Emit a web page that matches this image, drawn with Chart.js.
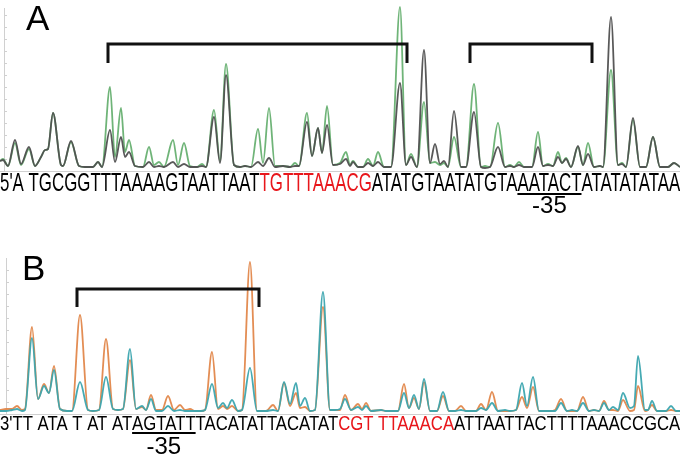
<!DOCTYPE html>
<html>
<head>
<meta charset="utf-8">
<script src="https://cdn.jsdelivr.net/npm/chart.js@4.4.0/dist/chart.umd.min.js"></script>
<style>
body { margin: 0; background: #fff; }
canvas { display: block; }
</style>
</head>
<body>
<canvas id="panelA" width="680" height="230"></canvas>
<canvas id="panelB" width="680" height="225"></canvas>
<script>
// Panel A trace samples (position along the gel, signal height)
const aPos =   [0, 3, 8, 15, 21, 29, 35, 41, 45, 48, 53, 61, 63, 71, 79, 85, 93, 98, 102, 110, 115, 121, 125, 129, 135, 143, 149, 154, 159, 164, 173, 178, 184, 190, 197, 202, 206, 214, 220, 226, 234, 240, 245, 251, 258, 263, 269, 275, 283, 290, 295, 299, 307, 312, 318, 322, 327, 333, 340, 346, 350, 353, 358, 363, 368, 373, 378, 384, 391, 400, 406, 411, 417, 424, 430, 435, 440, 444, 448, 454, 461, 466, 474, 481, 485, 490, 498, 505, 510, 514, 519, 524, 532, 538, 543, 548, 553, 558, 562, 566, 571, 578, 583, 588, 594, 600, 603, 611, 618, 622, 626, 633, 640, 646, 653, 660, 668, 674, 680];
const aGreen = [10, 12, 5, 28, 6, 22, 5, 14, 21, 22, 58, 6, 5, 29, 5, 4, 4, 9, 4, 84, 14, 63, 19, 31, 5, 4, 24, 6, 9, 4, 31, 6, 28, 5, 4, 7, 4, 61, 10, 107, 6, 4, 5, 4, 42, 8, 63, 5, 5, 4, 8, 5, 58, 15, 43, 18, 65, 6, 8, 19, 6, 10, 4, 4, 12, 5, 19, 4, 4, 164, 6, 17, 4, 69, 8, 9, 6, 8, 4, 34, 4, 4, 87, 4, 5, 4, 48, 4, 6, 4, 9, 4, 4, 39, 5, 7, 5, 19, 8, 13, 4, 24, 6, 28, 4, 5, 4, 101, 6, 8, 4, 51, 4, 4, 34, 4, 4, 8, 4];
const aGray =  [10, 11, 5, 31, 7, 24, 5, 14, 21, 22, 58, 6, 5, 30, 5, 4, 4, 9, 4, 41, 9, 34, 14, 19, 5, 4, 9, 4, 5, 4, 9, 4, 7, 4, 4, 5, 4, 54, 8, 96, 6, 4, 5, 4, 9, 5, 13, 4, 5, 4, 5, 5, 49, 15, 43, 18, 46, 6, 7, 12, 5, 9, 4, 4, 8, 5, 9, 4, 4, 88, 6, 14, 4, 121, 8, 27, 7, 10, 4, 60, 4, 4, 59, 4, 3, 4, 24, 4, 5, 4, 6, 4, 4, 24, 5, 6, 5, 14, 8, 12, 4, 25, 6, 17, 4, 5, 4, 154, 6, 7, 4, 53, 4, 4, 34, 4, 4, 8, 4];

// Panel B trace samples
const bPos =    [0, 6, 12, 17, 22, 25, 32, 38, 44, 49, 54, 60, 67, 72, 80, 88, 93, 99, 106, 113, 118, 123, 130, 136, 142, 146, 151, 156, 162, 168, 174, 180, 185, 190, 195, 201, 205, 212, 218, 223, 227, 232, 238, 242, 250, 257, 266, 273, 278, 284, 290, 296, 300, 305, 310, 315, 323, 330, 335, 340, 345, 351, 358, 362, 366, 371, 381, 386, 398, 404, 409, 414, 419, 424, 430, 437, 443, 449, 455, 461, 466, 476, 481, 486, 492, 498, 505, 510, 516, 522, 527, 533, 539, 550, 555, 561, 567, 572, 577, 583, 589, 594, 599, 604, 609, 613, 618, 623, 630, 634, 638, 645, 648, 652, 657, 666, 671, 676, 680];
const bOrange = [4, 5, 5, 8, 4, 5, 87, 15, 30, 21, 48, 5, 3, 3, 99, 4, 3, 4, 75, 5, 4, 5, 54, 5, 7, 4, 19, 4, 4, 18, 4, 9, 4, 5, 3, 3, 4, 62, 5, 8, 5, 8, 3, 4, 152, 3, 3, 9, 3, 31, 8, 21, 6, 7, 3, 4, 107, 4, 4, 4, 19, 4, 10, 5, 11, 3, 4, 3, 3, 30, 6, 16, 5, 32, 3, 3, 18, 3, 3, 8, 3, 3, 10, 4, 22, 3, 3, 3, 4, 17, 6, 27, 3, 3, 4, 15, 3, 3, 3, 17, 3, 4, 3, 13, 4, 4, 3, 14, 3, 4, 28, 3, 4, 9, 3, 3, 4, 3, 3];
const bTeal =   [3, 3, 4, 5, 3, 4, 76, 15, 28, 21, 44, 5, 3, 3, 32, 4, 3, 4, 37, 5, 4, 5, 65, 5, 8, 4, 15, 3, 3, 8, 3, 4, 3, 3, 3, 3, 4, 30, 6, 11, 6, 14, 3, 4, 46, 3, 3, 4, 3, 32, 10, 31, 8, 16, 3, 4, 122, 4, 4, 5, 15, 4, 7, 4, 8, 3, 4, 3, 3, 21, 6, 19, 5, 35, 3, 3, 22, 3, 3, 4, 3, 3, 6, 4, 11, 3, 4, 3, 4, 31, 8, 37, 3, 3, 3, 11, 3, 4, 3, 11, 3, 4, 3, 11, 4, 7, 4, 21, 6, 8, 58, 4, 4, 13, 3, 3, 8, 3, 3];

// protected regions: [start, end] in trace positions
const aBrackets = [[108, 407], [470, 592]];
const bBrackets = [[77, 259]];
const aBracketLevels = [108, 127];
const bBracketLevels = [107, 125];

// sequences: [text, colour, underlined]
const aSeq = [["5'A TGCGGTTTAAAAGTAATTAAT", '#000', false], ['TGTTTAAACG', '#e8161b', false],
  ['ATATGTAATATGTA', '#000', false], ['AATACT', '#000', true], ['ATATATATAA', '#000', false]];
const bSeq = [["3'TT ATA T AT AT", '#000', false], ['AGTATT', '#000', true],
  ['TACATATTACATAT', '#000', false], ['CGT TTAAACA', '#e8161b', false], ['ATTAATTACTTTTAAACCGCA', '#000', false]];

const FONT = '"Liberation Sans", Arial, sans-serif';

const decor = {
    id: 'decor',
    beforeDatasetsDraw(chart, args, o) {
        const ctx = chart.ctx, area = chart.chartArea;
        ctx.save();
        ctx.strokeStyle = '#d0d0d0';
        ctx.lineWidth = 1;
        ctx.beginPath();
        ctx.moveTo(o.axisX + 0.5, o.axisTop);
        ctx.lineTo(o.axisX + 0.5, area.bottom);
        ctx.moveTo(0, area.bottom + 0.5);
        ctx.lineTo(680, area.bottom + 0.5);
        for (let y = area.bottom - 12; y > o.axisTop; y -= 12) {
            ctx.moveTo(o.axisX, y + 0.5);
            ctx.lineTo(o.axisX + 3, y + 0.5);
        }
        ctx.stroke();
        ctx.restore();
    },
    afterDraw(chart, args, o) {
        const ctx = chart.ctx;
        ctx.save();
        ctx.fillStyle = '#000';
        ctx.font = '35px ' + FONT;
        ctx.fillText(o.letter, o.letterX, o.letterY);

        ctx.font = o.seqSize + 'px ' + FONT;
        const full = o.seq.map(s => s[0]).join('');
        const sx = o.seqWidth / ctx.measureText(full).width;
        let x = 0;
        o.seq.forEach(s => {
            const w = ctx.measureText(s[0]).width * sx;
            ctx.save();
            ctx.translate(x, o.seqY);
            ctx.scale(sx, 1);
            ctx.fillStyle = s[1];
            ctx.fillText(s[0], 0, 0);
            ctx.restore();
            if (s[2]) {
                ctx.fillRect(x, o.seqY + 2, w, 2);
                ctx.font = o.numSize + 'px ' + FONT;
                ctx.textAlign = 'center';
                ctx.fillText('-35', x + w / 2, o.numY);
                ctx.textAlign = 'left';
                ctx.font = o.seqSize + 'px ' + FONT;
            }
            x += w;
        });
        ctx.restore();
    }
};

const toXY = (xs, ys) => xs.map((x, i) => ({ x: x, y: ys[i] }));

function bracketSets(spans, levels) {
    return spans.map(s => ({
        data: [{ x: s[0], y: levels[0] }, { x: s[0], y: levels[1] }, { x: s[1], y: levels[1] }, { x: s[1], y: levels[0] }],
        borderColor: '#111',
        borderWidth: 3,
        borderJoinStyle: 'miter',
        tension: 0,
        pointRadius: 0
    }));
}

function trace(data, color) {
    return {
        data: data,
        borderColor: color,
        borderWidth: 1.8,
        cubicInterpolationMode: 'monotone',
        pointRadius: 0
    };
}

function makePanel(id, traces, brackets, yMax, padBottom, decorOpts) {
    return new Chart(document.getElementById(id), {
        type: 'line',
        data: { datasets: brackets.concat(traces) },
        options: {
            responsive: false,
            animation: false,
            layout: { padding: { left: 0, right: 0, top: 0, bottom: padBottom } },
            plugins: { legend: { display: false }, tooltip: { enabled: false }, decor: decorOpts },
            scales: {
                x: { type: 'linear', min: 0, max: 680, display: false },
                y: { min: 0, max: yMax, display: false }
            }
        },
        plugins: [decor]
    });
}

makePanel('panelA',
    [trace(toXY(aPos, aGray), 'rgba(80,80,80,0.95)'), trace(toXY(aPos, aGreen), 'rgba(95,172,105,0.9)')],
    bracketSets(aBrackets, aBracketLevels), 171, 59,
    { letter: 'A', letterX: 26, letterY: 30, axisX: 4, axisTop: 8, seq: aSeq, seqSize: 25, seqY: 191, seqWidth: 679, numSize: 24, numY: 213 });

makePanel('panelB',
    [trace(toXY(bPos, bTeal), 'rgba(60,165,175,0.95)'), trace(toXY(bPos, bOrange), 'rgba(225,135,75,0.95)')],
    bracketSets(bBrackets, bBracketLevels), 184, 41,
    { letter: 'B', letterX: 22, letterY: 50, axisX: 6, axisTop: 28, seq: bSeq, seqSize: 21, seqY: 200, seqWidth: 679, numSize: 24, numY: 224 });
</script>
</body>
</html>
